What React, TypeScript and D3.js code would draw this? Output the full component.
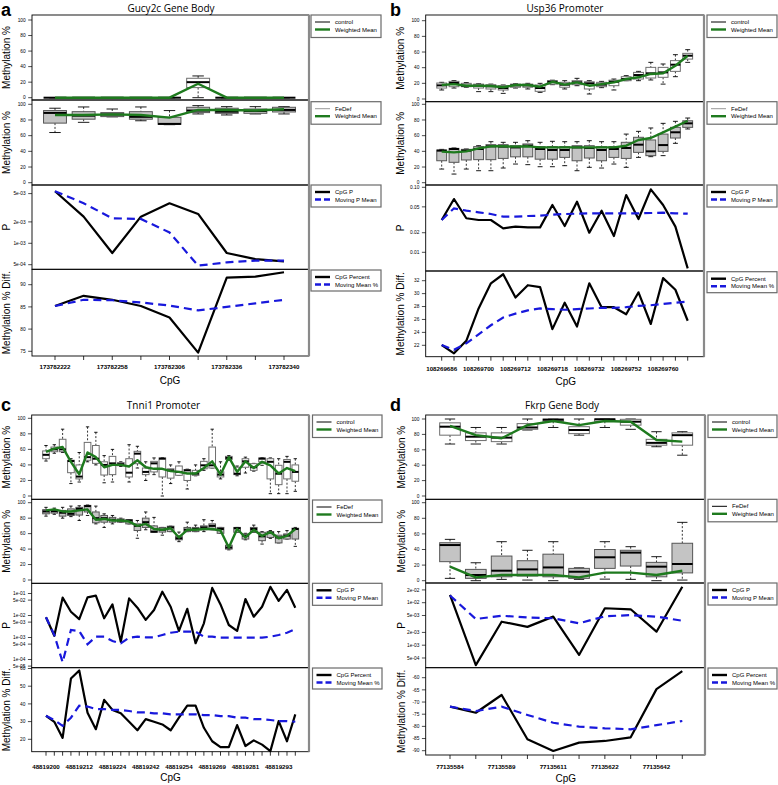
import React from 'react';
import * as d3 from 'd3';

// ---------------- DATA ----------------
// boxes: [lower whisker, Q1, median, Q3, upper whisker]
const aControl = [[0,0,0,0,0],[0,0,0,0,0],[0,0,0,0,0],[0,0,0,0,0],[0,0,0,0,0],[0,13,20,25,28],[0,0,0,0,0],[0,0,0,0,0],[0,0,0,0,0]];
const aControlMean = [0,0,0,0,0,18,0,0,0];
const aFeDef = [[64,76,89,92,95],[77,81,85.5,90.6,96.6],[84,84.3,87,89.4,94],[79,81,84,90.6,96.6],[74,74.5,75,83.4,92],[87.7,89.4,92,96.2,98.3],[86.4,88.5,90.6,95,97],[87.7,88.5,91.5,94,97],[87.7,90.2,92.8,96.2,97]];
const aFeDefMean = [86.4,86.4,87.2,86.4,83,92.8,92.8,92,93.6];
const aP = [5.4e-3,2.37e-3,7.3e-4,2.37e-3,3.66e-3,2.59e-3,7.3e-4,6.0e-4,5.56e-4];
const aPMean = [5.4e-3,3.66e-3,2.25e-3,2.2e-3,1.42e-3,4.85e-4,5.4e-4,5.7e-4,5.7e-4];
const aDiff = [85.2,87.5,86.6,85.2,82.6,74.7,91.6,91.8,92.8];
const aDiffMean = [85.2,86.6,86.5,86,85.3,84.2,85,85.8,86.6];
const aTickIdx = [0,2,4,6,8];
const aTickLabels = ['173782222','173782258','173782306','173782336','173782340'];
const aPTicks = [5e-4,1e-3,2e-3,5e-3];
const aDiffTicks = [75,80,85,90];

const bControl = [[11.5,14,17.4,20.4,21.3],[14,15.7,20.4,22.5,23.4],[15,15.7,17,20,21],[9.4,14,17,19,19.5],[9.4,12.8,16.2,18.3,19],[7.2,11.5,14,17,17.9],[14,15,17.4,19,19.5],[12.8,15,17.4,19,20],[8.5,9.8,14,17.9,20],[18.3,19,22,23.4,24],[12.8,15,18.3,21.3,23.4],[17,18.3,21.3,23.4,26.4],[6.4,12.8,20,22,23.4],[14.5,15.7,18.3,21.3,22.5],[11.5,17,22,24,25.5],[23.4,23.4,25.5,28.5,29.8],[23.4,25.5,30.6,34,35.3],[24.3,26.8,32.8,40.4,46.8],[19,27.7,34,40.4,44.7],[28.5,35.3,43.8,49,56.6],[46.8,51,55.3,58.3,63]];
const bControlMean = [17.9,19,17,17,16.6,15,17.9,17.9,15.7,22,18.3,21.3,17,19,21.3,25.5,27.7,32,32.8,42.5,55.3];
const bFeDef = [[17.4,28,40.9,41.7,42.5],[11,26,43,43.8,44.3],[17.4,29,40.9,42.5,43],[15.3,29.4,43,46,47.2],[15.3,29.4,46.4,48.5,52.3],[18.7,31,46,48.5,51.5],[23.8,33,45,47.2,51.5],[23,33,47.2,49.4,53.6],[20.4,30,43,46,51.5],[20.4,30,41.7,46,52.8],[21.7,32.3,41.7,46,52.3],[15.3,28,45,47.2,52.3],[19.6,31.5,44.3,47.2,53.6],[18.7,28,41.7,46,52.3],[23.8,32.3,43,46,52.3],[19.6,31,44.3,51.5,62],[32.3,38.7,48.5,57.9,65.5],[33.2,34.5,40,54.5,69.8],[34.5,40,48,62,75.7],[50.2,57,64.3,70.6,78.3],[68.5,70.6,75.7,79,82.5]];
const bFeDefMean = [39.6,38.7,40,43.8,46.4,46.4,46,46.4,45,45,45,45,45,45,45,47.2,54.5,57,64.3,71.5,79];
const bP = [0.0314,0.066,0.0334,0.0314,0.0314,0.0234,0.0248,0.0242,0.0242,0.0534,0.0254,0.06,0.02,0.0437,0.0178,0.076,0.0325,0.093,0.0534,0.0248,0.00567];
const bPMean = [0.0314,0.0475,0.0437,0.0412,0.0388,0.0353,0.0353,0.0362,0.0366,0.0379,0.0388,0.0393,0.0398,0.0398,0.0398,0.0398,0.0398,0.0402,0.0407,0.0398,0.0393];
const bDiff = [22.05,20.76,22.7,27.7,31.6,33.0,29.4,31.3,31.0,24.5,28.6,24.9,31.6,27.9,27.9,26.8,30.2,25.3,32.4,30.6,25.8];
const bDiffMean = [22.05,21.3,22.3,23.7,25.1,26.3,26.9,27.4,27.7,27.6,27.5,27.6,27.7,27.8,27.8,27.9,28.1,28.2,28.4,28.6,28.75];
const bTickIdx = [0,3,6,9,12,15,18];
const bTickLabels = ['108269686','108269700','108269712','108269718','108269732','108269752','108269760'];
const bPTicks = [0.01,0.02,0.05,0.1];
const bDiffTicks = [22,24,26,28,30,32];

const cControl = [[45,48,53,58,65],[55,57,60,63,66],[56,57,60,73,86],[16,30,45,46,48],[18,22,25,40,56],[44,46,50,69,89],[40,42,48,65,82],[17,27,40,44,52],[18,27.5,42,51,60],[38,39,41,43,44],[18,24.5,30,48,66],[36,41.6,54.5,57.5,64],[20,27.5,31,36,44],[27.5,31,42,44.6,49],[0,24.5,48,49,49.5],[16,23,33,35,40],[26.6,26.6,31,38.6,44],[9,20,33,34,34.5],[26,26.6,28.7,33,40],[33,35,39.5,44.6,48],[36,36,39.5,63,86],[22,24.5,27.5,31,44],[46,47,49,51,52],[26,27.5,28.7,37,38.6],[29.6,37,44.6,48,50],[32,33,37,41.6,42],[39.5,44,48,49,49.5],[3,22,44,48,49],[3,14.6,28.7,39.5,48],[3,22,44,47,51],[6,19,31,40,48]];
const cControlMean = [56.7,61,63,44,28,56,50,37,40,40,38,46,37,35,35,32,31,29,29,36,44.6,27.5,50,31,44.6,36,44,39.5,29,36,32];
const cFeDef = [[82.6,85.6,88.7,91,94],[85,86.5,89,91,93],[80,82.6,87,90,94],[82,83.5,85.6,92,95.6],[77,84,92,94,96],[83.5,88,95.6,96.5,97],[72.6,74,80,88,95.6],[68,74.8,80,83.5,85.6],[72.6,74.8,78,81,83.5],[74.8,74.8,77,79,80],[72.6,72.6,77,78,78],[54,64,70,72.6,77],[65,68,74.8,80,88],[61.7,61.7,62.6,70,81],[58,62,65,68,68],[62.6,62.6,68,69.6,69.6],[49.6,52,54,57,62],[62.6,62.6,65,68,74.8],[62.6,62.6,66,68,71],[62.6,65,68,70,78],[65,65,70,72.6,77],[60.4,60.4,66,68,68],[39,40,42,45,45],[61.7,61.7,67,68,68],[52,53,57.4,59.6,60.4],[61.7,61.7,66,68,71],[46.5,50.9,56.5,61.7,62.6],[53.9,55,61,62.6,63.9],[48,48,55,58,62.6],[53,53,57.4,59.6,63.9],[43.5,53,66,67,68]];
const cFeDefMean = [90,91.3,88.7,88.7,90,91.3,78,79,77,77,75.6,70,72.6,66,65,67,55,65,65,66,66,64,42,66,55,65,57,62,54,57,66];
const cP = [8.3e-3,1.2e-3,0.065,0.0148,6.8e-3,0.067,0.08,7.5e-3,0.032,6.4e-4,0.06,0.0226,6.3e-3,0.0178,0.12,0.025,2e-3,0.02,5.5e-4,4.4e-3,0.18,0.032,3.7e-3,2e-3,0.056,8.8e-3,0.025,0.2,0.046,0.145,0.0226];
const cPMean = [8.3e-3,1.3e-3,7.5e-5,2.2e-3,1.97e-3,4.9e-4,1.09e-3,1.09e-3,6.9e-4,5.4e-4,9.8e-4,1.09e-3,1.02e-3,1.02e-3,1.3e-3,1.65e-3,1.84e-3,1.84e-3,1.84e-3,1.09e-3,1.09e-3,9.8e-4,9.8e-4,9.8e-4,9.8e-4,9.8e-4,9.8e-4,1.09e-3,1.3e-3,1.65e-3,2.4e-3];
const cDiff = [33.3,29.9,20.8,54.3,58.9,35,25.7,42.3,36.6,34.7,29.9,25.1,31.4,29.9,28.4,25.1,32.2,39,39,26.5,18.9,15.6,15.6,28,16.2,19.4,17,13.3,30.3,18.9,34.1];
const cDiffMean = [33.3,30.9,27.6,32.2,39,38.5,37.1,37.1,36.6,36.6,36,35.2,35.2,34.7,34.7,34.1,34.1,34.1,34.1,33.7,33.7,33.1,33.1,32.2,32.2,31.4,31.4,30.9,30.3,30.3,29.9];
const cTickIdx = [0,4,8,12,16,20,24,28];
const cTickLabels = ['48819200','48819212','48819224','48819242','48819254','48819269','48819281','48819293'];
const cPTicks = [5e-5,1e-4,5e-4,1e-3,5e-3,1e-2,5e-2,1e-1];
const cDiffTicks = [20,30,40,50,60];

const dControl = [[67.5,79,90,95,100],[67.5,72,77,82,89],[67.5,70.6,75.8,82,89],[85.7,86.6,89,94,100],[89,97,99,100,100],[79,81,85.7,90,100],[89,97,99.6,100,100],[86.6,92,96.5,99.6,100],[64,66,69,73.6,83.5],[53,66,79,82,83.5]];
const dControlMean = [91,79,75,92,97.4,92,97.4,96.5,72.7,70.6];
const dFeDef = [[3,24.4,45.7,48.7,53],[0,3,7.3,14.5,23],[1.7,5,12.8,31.6,50],[0.8,6,14.5,25.6,39],[0,5,17,34,50],[1.7,3,11.5,15.8,16.5],[2,15.8,30,40,50],[1.7,18.8,36,39,43.6],[0,5,18,23.5,30.8],[0.8,10,21.4,48,74.8]];
const dFeDefMean = [18,4.3,7.3,7.3,7.3,4.3,10.3,10.3,7.3,12.8];
const dP = [0.0152,3.4e-4,3.57e-3,2.7e-3,4.7e-3,5.9e-4,7.4e-3,7e-3,2.08e-3,0.0238];
const dPMean = [0.0148,4.13e-3,4.94e-3,4.5e-3,4.3e-3,3.27e-3,4.8e-3,5.1e-3,4.7e-3,3.77e-3];
const dDiff = [-71.9,-74.4,-67.1,-85.3,-90.1,-86.7,-86,-84.5,-64.7,-57.3];
const dDiffMean = [-71.9,-73.7,-71.9,-75.3,-78.5,-80.1,-80.8,-81.2,-79.5,-77.8];
const dTickIdx = [0,2,4,6,8];
const dTickLabels = ['77135584','77135589','77135611','77135622','77135642'];
const dPTicks = [5e-4,1e-3,2e-3,5e-3,1e-2,2e-2];
const dDiffTicks = [-90,-85,-80,-75,-70,-65,-60];

const methTicks = [0,20,40,60,80,100];

// ---------------- STYLE ----------------
const GREEN = '#1e7a1e';
const BLUE = '#1818dc';
const SANS = '"Liberation Sans", Arial, Helvetica, sans-serif';
const TITLE_FONT = '"Open Sans", "Liberation Sans", sans-serif';

function fmtExp(v: number) {
  const s = v.toExponential(0);
  const [m, e] = s.split('e');
  const sign = e[0] === '-' ? '-' : '+';
  const digits = e.replace(/[-+]/, '').padStart(2, '0');
  return `${m}e${sign}${digits}`;
}
const fmt2 = d3.format('.2f');
const fmtInt = (v: number) => String(v);

type Box = number[];
interface Cfg {
  letter: string; letterX: number; letterY: number;
  title: string; titleX: number; titleY: number;
  left: number; right: number; xFirst: number; xLast: number;
  subs: number[];
  y1: number[]; y2: number[];
  pDom: number[]; pRange: number[]; pTicks: number[]; pFmt: (v: number) => string;
  dDom: number[]; dRange: number[]; dTicks: number[];
  legX: number; legW: number; legTops: number[];
  xLabelY: number; cpgX: number; cpgY: number; yTitleX: number;
  feLegColor: string;
  control: Box[]; controlMean: number[]; fe: Box[]; feMean: number[];
  p: number[]; pMean: number[]; diff: number[]; diffMean: number[];
  tickIdx: number[]; tickLabels: string[];
}

function Boxes({ data, x, y, bw, fill, stroke }: any) {
  return (
    <g>
      {data.map((b: Box, i: number) => {
        const [lo, q1, med, q3, hi] = b;
        const cx = x(i);
        const cap = bw * 0.25;
        return (
          <g key={i}>
            <line x1={cx} x2={cx} y1={y(hi)} y2={y(q3)} stroke="#000" strokeWidth={0.8} strokeDasharray="2,1.8" />
            <line x1={cx} x2={cx} y1={y(q1)} y2={y(lo)} stroke="#000" strokeWidth={0.8} strokeDasharray="2,1.8" />
            <line x1={cx - cap} x2={cx + cap} y1={y(hi)} y2={y(hi)} stroke="#000" strokeWidth={0.9} />
            <line x1={cx - cap} x2={cx + cap} y1={y(lo)} y2={y(lo)} stroke="#000" strokeWidth={0.9} />
            {y(q1) - y(q3) > 0.01 && (
              <rect x={cx - bw / 2} y={y(q3)} width={bw} height={y(q1) - y(q3)} fill={fill} stroke={stroke} strokeWidth={1} />
            )}
            <line x1={cx - bw / 2} x2={cx + bw / 2} y1={y(med)} y2={y(med)} stroke="#000" strokeWidth={2} />
          </g>
        );
      })}
    </g>
  );
}

function Legend({ x, y, w, h, items }: any) {
  return (
    <g>
      <rect x={x} y={y} width={w} height={h} fill="#fff" stroke="#6a6a6a" strokeWidth={1.2} />
      {items.map((it: any, i: number) => {
        const ry = y + 7 + i * 7.5;
        return (
          <g key={i}>
            <line x1={x + 4} x2={x + 19} y1={ry} y2={ry} stroke={it.color} strokeWidth={it.width} strokeDasharray={it.dash || undefined} />
            <text x={x + 24} y={ry + 2.1} fontSize={6} fontFamily={SANS} fill="#000">{it.label}</text>
          </g>
        );
      })}
    </g>
  );
}

function YAxis({ left, scale, ticks, fmt }: any) {
  return (
    <g>
      {ticks.map((t: number, i: number) => (
        <g key={i}>
          <line x1={left - 3.8} x2={left} y1={scale(t)} y2={scale(t)} stroke="#000" strokeWidth={0.7} />
          <text x={left - 6.3} y={scale(t) + 1.7} fontSize={4.8} textAnchor="end" fontFamily={SANS} fill="#000">{fmt(t)}</text>
        </g>
      ))}
    </g>
  );
}

function Panel({ c }: { c: Cfg }) {
  const n = c.control.length;
  const x = d3.scaleLinear().domain([0, n - 1]).range([c.xFirst, c.xLast]);
  const step = (c.xLast - c.xFirst) / (n - 1);
  const bw = step * 0.8;
  const [t0, t1, t2, t3, t4] = c.subs;
  const y1 = d3.scaleLinear().domain([0, 100]).range(c.y1);
  const y2 = d3.scaleLinear().domain([0, 100]).range(c.y2);
  const y3 = d3.scaleLog().domain(c.pDom).range(c.pRange);
  const y4 = d3.scaleLinear().domain(c.dDom).range(c.dRange);
  const mk = (ys: any) => d3.line<number>().x((_, i) => x(i)).y((d) => ys(d));
  const w = c.right - c.left;
  const idx = d3.range(n);
  const mid = (a: number, b: number) => (a + b) / 2;
  const yTitle = (label: string, cy: number) => (
    <text transform={`translate(${c.yTitleX},${cy}) rotate(-90)`} textAnchor="middle" fontSize={10} fontFamily={SANS} fill="#000">{label}</text>
  );
  return (
    <g>
      <text x={c.letterX} y={c.letterY} fontSize={18} fontWeight="bold" fontFamily={SANS}>{c.letter}</text>
      <text x={c.titleX} y={c.titleY} fontSize={10} textAnchor="middle" fontFamily={TITLE_FONT} fill="#000">{c.title}</text>

      {/* subplot 1: control */}
      <Boxes data={c.control} x={x} y={y1} bw={bw} fill="#fff" stroke="#6e6e6e" />
      <path d={mk(y1)(c.controlMean) || ''} fill="none" stroke={GREEN} strokeWidth={2.4} strokeLinejoin="round" />
      {/* subplot 2: FeDef */}
      <Boxes data={c.fe} x={x} y={y2} bw={bw} fill="#c4c4c4" stroke="#555" />
      <path d={mk(y2)(c.feMean) || ''} fill="none" stroke={GREEN} strokeWidth={2.4} strokeLinejoin="round" />
      {/* subplot 3: P */}
      <path d={mk(y3)(c.p) || ''} fill="none" stroke="#000" strokeWidth={2.2} strokeLinejoin="round" />
      <path d={mk(y3)(c.pMean) || ''} fill="none" stroke={BLUE} strokeWidth={2.2} strokeDasharray="8,5" />
      {/* subplot 4: diff */}
      <path d={mk(y4)(c.diff) || ''} fill="none" stroke="#000" strokeWidth={2.2} strokeLinejoin="round" />
      <path d={mk(y4)(c.diffMean) || ''} fill="none" stroke={BLUE} strokeWidth={2.2} strokeDasharray="8,5" />

      {/* frames */}
      {[[t0, t1], [t1, t2], [t2, t3], [t3, t4]].map(([a, b], i) => (
        <rect key={i} x={c.left} y={a} width={w} height={b - a} fill="none" stroke="#000" strokeWidth={0.9} />
      ))}
      <line x1={c.right} x2={c.right} y1={t0} y2={t4} stroke="#8a8a8a" strokeWidth={2.2} />

      {/* y axes */}
      <YAxis left={c.left} scale={y1} ticks={methTicks} fmt={fmtInt} />
      <YAxis left={c.left} scale={y2} ticks={methTicks} fmt={fmtInt} />
      <YAxis left={c.left} scale={y3} ticks={c.pTicks} fmt={c.pFmt} />
      <YAxis left={c.left} scale={y4} ticks={c.dTicks} fmt={fmtInt} />
      {yTitle('Methylation %', mid(t0, t1))}
      {yTitle('Methylation %', mid(t1, t2))}
      {yTitle('P', mid(t2, t3))}
      {yTitle('Methylation % Diff.', mid(t3, t4))}

      {/* x axis */}
      {idx.map((i) => (
        <line key={i} x1={x(i)} x2={x(i)} y1={t4} y2={t4 + 4} stroke="#000" strokeWidth={0.8} />
      ))}
      {c.tickIdx.map((ti, k) => (
        <text key={k} x={x(ti)} y={c.xLabelY} fontSize={6.2} fontWeight="bold" textAnchor="middle" fontFamily={SANS} fill="#000">{c.tickLabels[k]}</text>
      ))}
      <text x={c.cpgX} y={c.cpgY} fontSize={10} textAnchor="middle" fontFamily={SANS} fill="#000">CpG</text>

      {/* legends */}
      <Legend x={c.legX} y={c.legTops[0]} w={c.legW} h={22.5} items={[
        { label: 'control', color: '#000', width: 1 },
        { label: 'Weighted Mean', color: GREEN, width: 2.4 },
      ]} />
      <Legend x={c.legX} y={c.legTops[1]} w={c.legW} h={22.5} items={[
        { label: 'FeDef', color: c.feLegColor, width: 1 },
        { label: 'Weighted Mean', color: GREEN, width: 2.4 },
      ]} />
      <Legend x={c.legX} y={c.legTops[2]} w={c.legW} h={22} items={[
        { label: 'CpG P', color: '#000', width: 2.4 },
        { label: 'Moving P Mean', color: BLUE, width: 2.4, dash: '6,3' },
      ]} />
      <Legend x={c.legX} y={c.legTops[3]} w={c.legW} h={21} items={[
        { label: 'CpG Percent', color: '#000', width: 2.4 },
        { label: 'Moving Mean %', color: BLUE, width: 2.4, dash: '6,3' },
      ]} />
    </g>
  );
}

const panels: Cfg[] = [
  {
    letter: 'a', letterX: 1, letterY: 16, title: 'Gucy2c Gene Body', titleX: 171, titleY: 11.5,
    left: 32, right: 309, xFirst: 55, xLast: 284,
    subs: [15, 100, 185, 269.3, 356],
    y1: [97.7, 20], y2: [182.7, 104.3],
    pDom: [5e-4, 5e-3], pRange: [264.7, 193.6], pTicks: aPTicks, pFmt: fmtExp,
    dDom: [75, 90], dRange: [351.3, 284.7], dTicks: aDiffTicks,
    legX: 311, legW: 70, legTops: [15, 101.7, 185, 270],
    xLabelY: 369, cpgX: 170, cpgY: 384, yTitleX: 10, feLegColor: '#999',
    control: aControl, controlMean: aControlMean, fe: aFeDef, feMean: aFeDefMean,
    p: aP, pMean: aPMean, diff: aDiff, diffMean: aDiffMean, tickIdx: aTickIdx, tickLabels: aTickLabels,
  },
  {
    letter: 'b', letterX: 390, letterY: 16, title: 'Usp36 Promoter', titleX: 565, titleY: 11.5,
    left: 425.7, right: 704, xFirst: 441.7, xLast: 687.7,
    subs: [15, 101.7, 185, 271, 356.7],
    y1: [99, 20.7], y2: [182.7, 104.3],
    pDom: [0.01, 0.1], pRange: [252.3, 187.3], pTicks: bPTicks, pFmt: fmt2,
    dDom: [22, 32], dRange: [345.3, 280.7], dTicks: bDiffTicks,
    legX: 707, legW: 70, legTops: [15, 101.7, 185, 271.7],
    xLabelY: 370.5, cpgX: 565.7, cpgY: 385, yTitleX: 404, feLegColor: '#999',
    control: bControl, controlMean: bControlMean, fe: bFeDef, feMean: bFeDefMean,
    p: bP, pMean: bPMean, diff: bDiff, diffMean: bDiffMean, tickIdx: bTickIdx, tickLabels: bTickLabels,
  },
  {
    letter: 'c', letterX: 1, letterY: 410.5, title: 'Tnni1 Promoter', titleX: 163.5, titleY: 409,
    left: 31.7, right: 309, xFirst: 46, xLast: 295.3,
    subs: [415, 499.3, 583.3, 667.7, 751.7],
    y1: [496, 418.3], y2: [580, 502.7],
    pDom: [1e-4, 1e-1], pRange: [659.5, 593.5], pTicks: cPTicks, pFmt: fmtExp,
    dDom: [20, 60], dRange: [739.3, 668.5], dTicks: cDiffTicks,
    legX: 312.5, legW: 69.5, legTops: [415, 500, 583.3, 668],
    xLabelY: 769, cpgX: 170.5, cpgY: 781, yTitleX: 10, feLegColor: '#000',
    control: cControl, controlMean: cControlMean, fe: cFeDef, feMean: cFeDefMean,
    p: cP, pMean: cPMean, diff: cDiff, diffMean: cDiffMean, tickIdx: cTickIdx, tickLabels: cTickLabels,
  },
  {
    letter: 'd', letterX: 390, letterY: 410.5, title: 'Fkrp Gene Body', titleX: 562, titleY: 409,
    left: 425.7, right: 705, xFirst: 450, xLast: 682.3,
    subs: [415, 499.3, 583, 667.7, 755],
    y1: [496, 419], y2: [580.7, 502.7],
    pDom: [1e-3, 1e-2], pRange: [645.2, 602.7], pTicks: dPTicks, pFmt: fmtExp,
    dDom: [-90, -60], dRange: [750.7, 677.7], dTicks: dDiffTicks,
    legX: 708, legW: 69, legTops: [415, 499.3, 583, 668],
    xLabelY: 769, cpgX: 565.7, cpgY: 781.5, yTitleX: 405, feLegColor: '#000',
    control: dControl, controlMean: dControlMean, fe: dFeDef, feMean: dFeDefMean,
    p: dP, pMean: dPMean, diff: dDiff, diffMean: dDiffMean, tickIdx: dTickIdx, tickLabels: dTickLabels,
  },
];

export default function App() {
  return (
    <svg width={778} height={785} viewBox="0 0 778 785"
      style={{ position: 'absolute', left: 0, top: 0, background: '#fff', display: 'block' }}>
      <rect x={0} y={0} width={778} height={785} fill="#fff" />
      {panels.map((p, i) => <Panel key={i} c={p} />)}
    </svg>
  );
}
